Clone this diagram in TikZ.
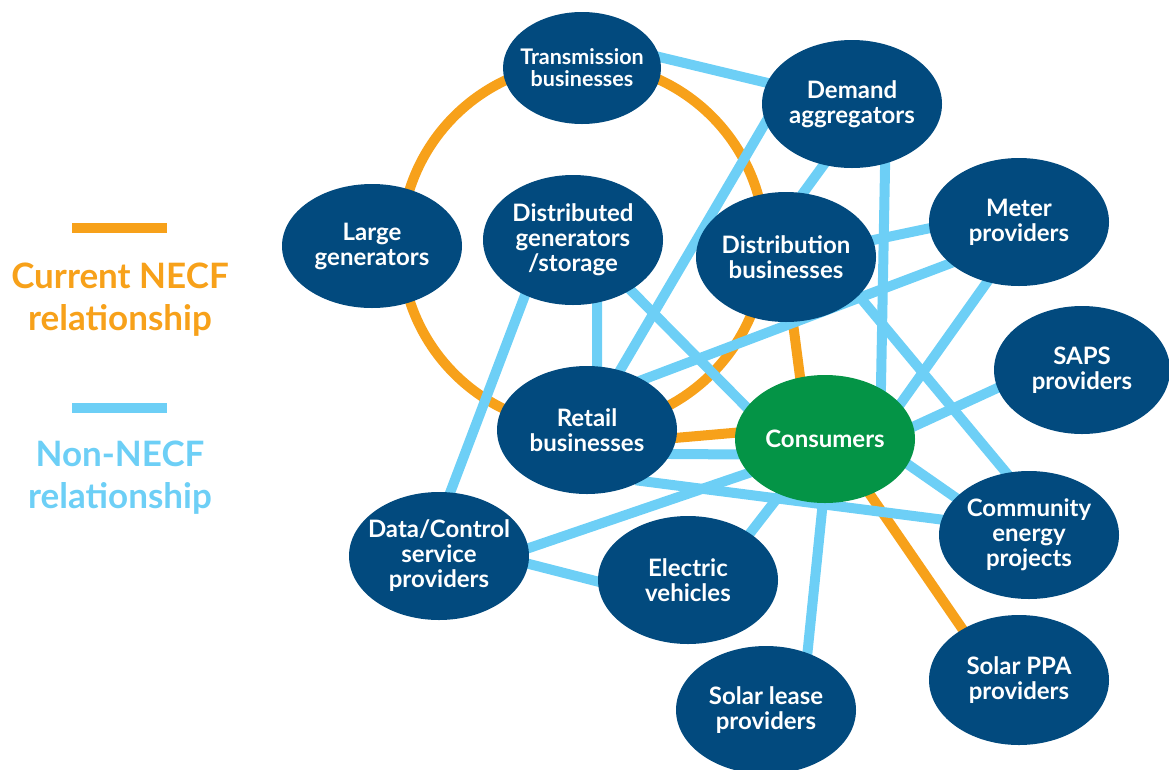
\documentclass[tikz,border=0pt]{standalone}
\usepackage{fontspec}
\setmainfont{Lato}
\usetikzlibrary{shapes.geometric,backgrounds}
\definecolor{navy}{RGB}{2,74,126}
\definecolor{consgreen}{RGB}{4,148,70}
\definecolor{necforange}{RGB}{247,161,26}
\definecolor{otherblue}{RGB}{109,207,246}
\begin{document}
\begin{tikzpicture}[x=1pt,y=-1pt,
  party/.style={ellipse,fill=navy,text=white,align=center,inner sep=-20pt,
    minimum width=180pt,minimum height=128pt,
    font=\bfseries\fontsize{24}{25}\selectfont},
  necf/.style={draw=necforange,line width=10pt,shorten <=-6pt,shorten >=-6pt},
  other/.style={draw=otherblue,line width=10pt,shorten <=-6pt,shorten >=-6pt},
  keytext/.style={align=center,font=\bfseries\fontsize{35}{42}\selectfont}]
\useasboundingbox (0,0) rectangle (1169,769);
\coordinate (ring) at (583,245);
\node[party,minimum width=158pt,minimum height=112pt,font=\bfseries\fontsize{21.5}{22}\selectfont] (trans) at (582,68) {Transmission\\businesses};
\node[party] (demand) at (852,104) {Demand\\aggregators};
\node[party,minimum height=124pt] (large) at (372,246) {Large\\generators};
\node[party,minimum height=130pt] (distgen) at (573,240) {Distributed\\generators\\/storage};
\node[party,minimum height=130pt] (dist) at (786,257) {Distribution\\businesses};
\node[party] (meter) at (1019,222) {Meter\\providers};
\node[party,minimum width=176pt] (saps) at (1082,370) {SAPS\\providers};
\node[party] (retail) at (587,430) {Retail\\businesses};
\node[party,fill=consgreen] (cons) at (825,439) {Consumers};
\node[party] (comm) at (1029,535) {Community\\energy\\projects};
\node[party] (data) at (439,556) {Data/Control\\service\\providers};
\node[party] (ev) at (688,580) {Electric\\vehicles};
\node[party] (lease) at (766,710) {Solar lease\\providers};
\node[party,minimum height=130pt] (ppa) at (1019,680) {Solar PPA\\providers};
\begin{pgfonlayer}{background}
\draw[necforange,line width=10pt] (ring) circle[radius=182pt];
\draw[necf] (retail.355) -- (cons.176);
\draw[necf] (dist.276) -- (cons.112);
\draw[necf] (cons.309) -- (ppa.138);
\draw[other] (trans.8) -- (demand.166);
\draw[other] (demand.192) -- (retail.61);
\draw[other] (demand.245) -- (dist.75);
\draw[other] (demand.299) -- (cons.42);
\draw[other] (meter.184) -- (dist.11);
\draw[other] (meter.211) -- (retail.42);
\draw[other] (meter.242) -- (cons.25);
\draw[other] (saps.192) -- (cons.8);
\draw[other] (dist.332) -- (comm.110);
\draw[other] (distgen.319) -- (cons.158);
\draw[other] (distgen.291) -- (retail.81);
\draw[other] (distgen.229) -- (data.80);
\draw[other] (data.5) -- (cons.204);
\draw[other] (data.355) -- (ev.181);
\draw[other] (ev.37) -- (cons.231);
\draw[other] (lease.54) -- (cons.268);
\draw[other] (retail.344) -- (cons.190);
\draw[other] (retail.317) -- (comm.170);
\draw[other] (cons.343) -- (comm.153);
\end{pgfonlayer}
\coordinate (curA) at (72,228);
\coordinate (curB) at (167,228);
\coordinate (nonA) at (72,408);
\coordinate (nonB) at (167,408);
\draw[necf,shorten <=0pt,shorten >=0pt] (curA) -- (curB);
\draw[other,shorten <=0pt,shorten >=0pt] (nonA) -- (nonB);
\node[keytext,text=necforange] (curkey) at (120,300) {Current NECF\\relationship};
\node[keytext,text=otherblue] (nonkey) at (120,478) {Non-NECF\\relationship};
\end{tikzpicture}
\end{document}
